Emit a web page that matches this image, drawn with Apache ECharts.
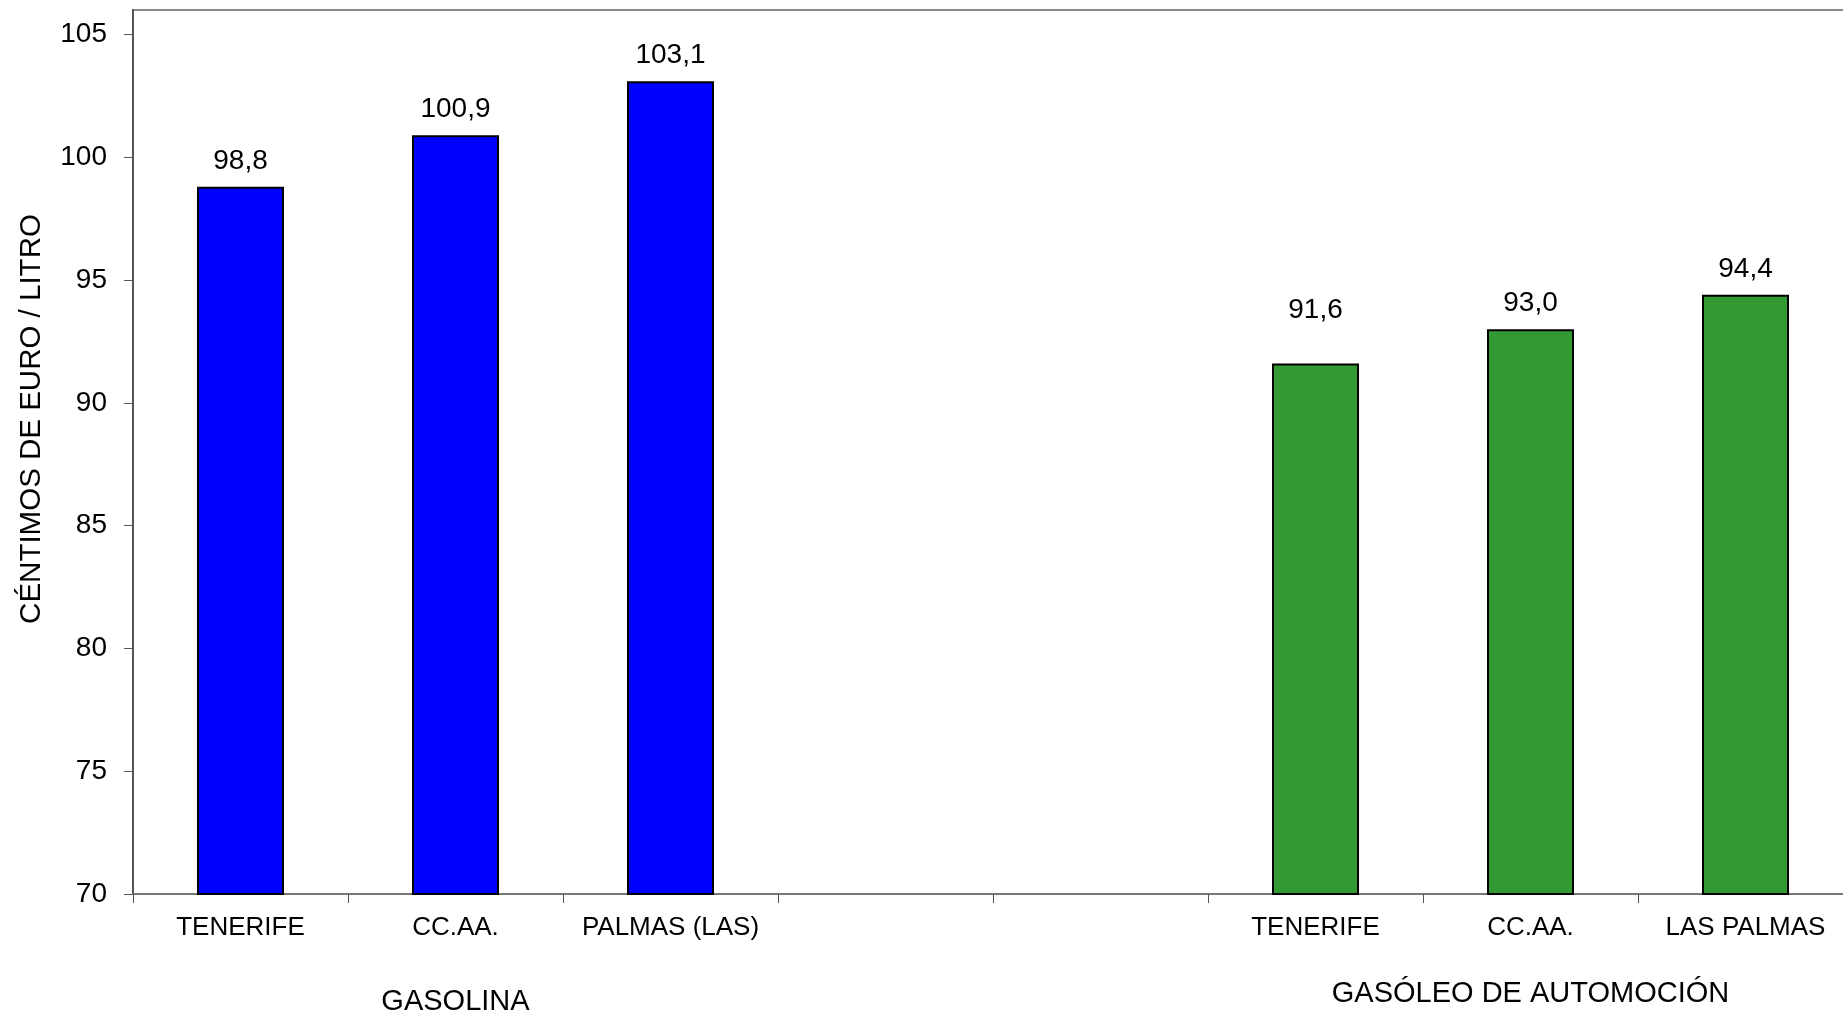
<!DOCTYPE html>
<html>
<head>
<meta charset="utf-8">
<script src="https://cdn.jsdelivr.net/npm/echarts@6/dist/echarts.min.js"></script>
<style>
html,body{margin:0;padding:0;background:#fff;}
#chart{width:1843px;height:1010px;}
</style>
</head>
<body>
<div id="chart"></div>
<script>
// ---- data ----
var categories = ['TENERIFE', 'CC.AA.', 'PALMAS (LAS)', '', '', 'TENERIFE', 'CC.AA.', 'LAS PALMAS'];
var groupLabels = ['', 'GASOLINA', '', '', '', '', 'GASÓLEO DE AUTOMOCIÓN', ''];
var gasolinaValues = [98.8, 100.9, 103.1, null, null, null, null, null];
var gasoleoValues = [null, null, null, null, null, 91.6, 93.0, 94.4];
var yTicks = [70, 75, 80, 85, 90, 95, 100, 105];
var yTitle = 'CÉNTIMOS DE EURO / LITRO';
var sourceNote = 'ideascarburantes/carburantes/index.html';

// ---- chart ----
var FONT = '"Liberation Sans", Arial, sans-serif';
var chart = echarts.init(document.getElementById('chart'), null, {renderer: 'canvas'});

function fmt(p) { return p.value == null ? '' : p.value.toFixed(1).replace('.', ','); }

var gasoleoData = gasoleoValues.map(function (v, i) {
  if (i === 5) { return {value: v, label: {offset: [0, -27]}}; }
  return v;
});

var barLabel = {show: true, position: 'top', distance: 12, color: '#000', fontSize: 28, fontFamily: FONT, formatter: fmt};

var option = {
  backgroundColor: '#fff',
  animation: false,
  grid: {left: 133, top: 10, width: 1720, height: 884, show: true, borderColor: '#8a8a8a', borderWidth: 2,
         backgroundColor: 'transparent', containLabel: false, outerBoundsMode: 'none'},
  graphic: [{
    type: 'text', right: 83, top: -16,
    style: {text: sourceNote, fontSize: 19, fontFamily: FONT, fill: '#000'}
  }],
  xAxis: [{
    type: 'category', data: categories, position: 'bottom',
    axisLine: {show: true, lineStyle: {color: '#777', width: 2}},
    axisTick: {show: true, alignWithLabel: false, length: 9, lineStyle: {color: '#555', width: 1}},
    axisLabel: {interval: 0, margin: 21, color: '#000', fontSize: 26, fontFamily: FONT},
    splitLine: {show: false}
  }, {
    type: 'category', data: groupLabels, position: 'bottom',
    axisLine: {show: false}, axisTick: {show: false}, splitLine: {show: false},
    axisLabel: {
      interval: 0, margin: 85, color: '#000', fontSize: 29, fontFamily: FONT,
      formatter: function (v, i) { return i === 1 ? '{a|' + v + '}' : '{b|' + v + '}'; },
      rich: {a: {fontSize: 29, fontFamily: FONT, color: '#000', padding: [8, 0, 0, 0]}, b: {fontSize: 29, fontFamily: FONT, color: '#000'}}
    }
  }],
  yAxis: {
    type: 'value', min: 70, max: 106, interval: 5,
    name: yTitle, nameLocation: 'middle', nameGap: 86, nameRotate: 90,
    nameTextStyle: {color: '#000', fontSize: 29.5, fontFamily: FONT, padding: [0, 0, 0, 66]},
    axisLine: {show: true, lineStyle: {color: '#555', width: 2}},
    axisTick: {show: true, length: 9, customValues: yTicks, lineStyle: {color: '#555', width: 1}},
    axisLabel: {margin: 26, color: '#000', fontSize: 28, fontFamily: FONT, customValues: yTicks},
    splitLine: {show: false}
  },
  series: [{
    name: 'GASOLINA', type: 'bar', data: gasolinaValues, barWidth: 87, barGap: '-100%',
    itemStyle: {color: '#0000ff', borderColor: '#000', borderWidth: 2},
    label: barLabel
  }, {
    name: 'GASÓLEO DE AUTOMOCIÓN', type: 'bar', data: gasoleoData, barWidth: 87, barGap: '-100%',
    itemStyle: {color: '#339933', borderColor: '#000', borderWidth: 2},
    label: barLabel
  }]
};
chart.setOption(option);
</script>
</body>
</html>
